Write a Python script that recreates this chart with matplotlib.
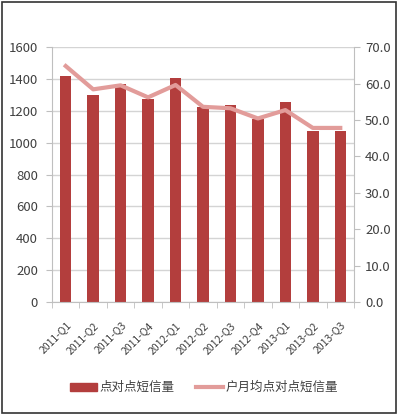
import matplotlib
matplotlib.use("Agg")
import matplotlib.pyplot as plt
import numpy as np
from matplotlib.patches import Rectangle
from matplotlib.lines import Line2D

plt.rcParams['font.family'] = ['Noto Sans CJK SC', 'DejaVu Sans']

categories = ["2011-Q1", "2011-Q2", "2011-Q3", "2011-Q4", "2012-Q1", "2012-Q2",
              "2012-Q3", "2012-Q4", "2013-Q1", "2013-Q2", "2013-Q3"]
sms_volume = [1418, 1297, 1368, 1276, 1405, 1225, 1238, 1150, 1253, 1075, 1073]
per_user = [64.8, 58.4, 59.5, 56.2, 59.6, 53.6, 53.2, 50.4, 52.7, 47.8, 47.8]
left_ticks = [0, 200, 400, 600, 800, 1000, 1200, 1400, 1600]
right_ticks = [0, 10, 20, 30, 40, 50, 60, 70]
bar_label = "点对点短信量"
line_label = "户月均点对点短信量"

bar_color = "#B33E3D"
line_color = "#E29C9A"
grid_color = "#D4D4D4"
spine_color = "#BFBFBF"
text_color = "#404040"

fig = plt.figure(figsize=(4.0, 4.17), dpi=100)
ax = fig.add_axes([0.13, 0.276, 0.755, 0.611])
x = np.arange(len(categories))
ax.bar(x, sms_volume, width=0.42, color=bar_color, zorder=2)
ax.set_xlim(-0.5, len(categories) - 0.5)
ax.set_ylim(0, 1600)
ax.set_yticks(left_ticks)
ax.set_yticklabels([str(v) for v in left_ticks], fontsize=9.5, color=text_color)
ax.yaxis.grid(True, color=grid_color, linewidth=1.0, zorder=0)
ax.set_axisbelow(True)
ax.set_xticks(x)
ax.set_xticklabels(categories, rotation=45, ha='right', rotation_mode='anchor',
                   fontsize=7.5, color=text_color)
ax.tick_params(axis='x', length=0, pad=13)
ax.set_xticks(np.arange(-0.5, len(categories)), minor=True)
ax.tick_params(axis='x', which='minor', length=4, color=spine_color, direction='out')
ax.tick_params(axis='y', length=4, color=spine_color, pad=6)
for s in ['top', 'right']:
    ax.spines[s].set_visible(False)
for s in ['left', 'bottom']:
    ax.spines[s].set_color(spine_color)

ax2 = ax.twinx()
ax2.plot(x, per_user, color=line_color, linewidth=3.0, solid_joinstyle='round', zorder=3)
ax2.set_ylim(0, 70)
ax2.set_yticks(right_ticks)
ax2.set_yticklabels([f"{v:.1f}" for v in right_ticks], fontsize=9.5, color=text_color)
ax2.tick_params(axis='y', length=4, color=spine_color, pad=4)
for s in ['top', 'left', 'bottom']:
    ax2.spines[s].set_visible(False)
ax2.spines['right'].set_color(spine_color)

handles = [Rectangle((0, 0), 1, 1, color=bar_color),
           Line2D([0], [0], color=line_color, linewidth=3.0)]
fig.legend(handles, [bar_label, line_label], loc='center', bbox_to_anchor=(0.51, 0.07),
           ncol=2, frameon=False, fontsize=9, handlelength=2.2, columnspacing=1.7,
           handletextpad=0.2, labelcolor=text_color)

fig.add_artist(Rectangle((0.005, 0.01), 0.985, 0.985, transform=fig.transFigure,
                         fill=False, edgecolor="#333333", linewidth=1.2))

fig.savefig("out.png", dpi=100)
